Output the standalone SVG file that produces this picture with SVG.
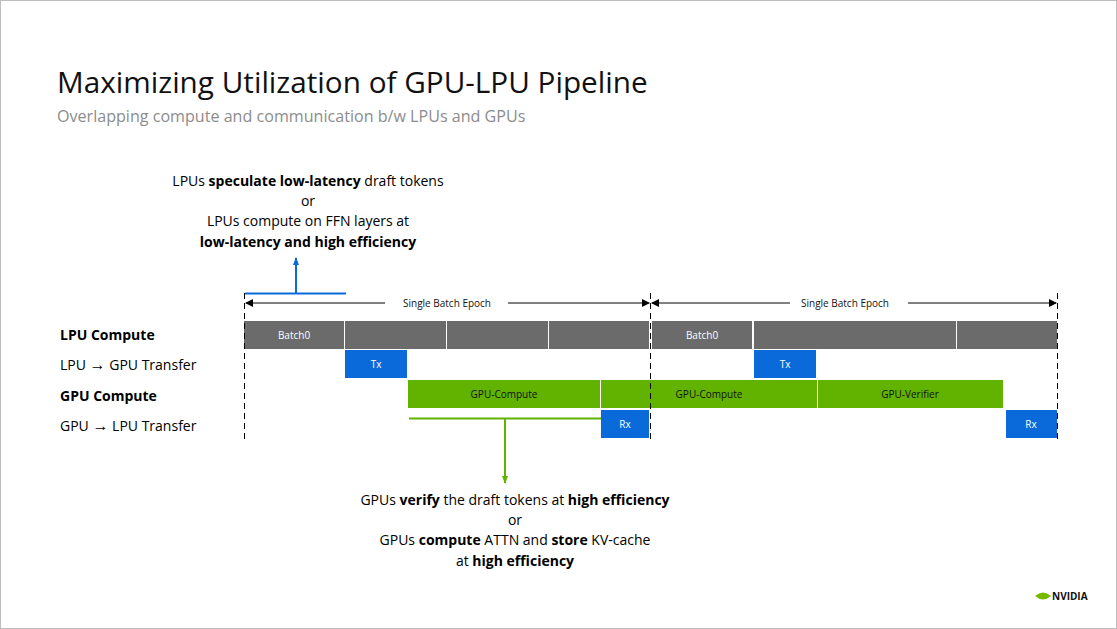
<svg xmlns="http://www.w3.org/2000/svg" width="1117" height="629" viewBox="0 0 1117 629">
<defs>
<style>
text{font-family:"Open Sans","Noto Sans",sans-serif}
.g{fill:#6b6b6b}.b{fill:#0a6ad9}.gr{fill:#62b200}
.wl{font-size:10px;fill:#fff;text-anchor:middle}
.dl{font-size:10px;fill:#111;text-anchor:middle}
.lab{font-size:14px;fill:#000}
.note{font-size:14px;fill:#000;text-anchor:middle}
.dash{stroke:#000;stroke-width:1;stroke-dasharray:6,4}
</style>
<marker id="ah" markerWidth="8" markerHeight="8" refX="7" refY="4" orient="auto" markerUnits="userSpaceOnUse"><path d="M0,0L8,4L0,8z" fill="#000"/></marker>
<marker id="ab" markerWidth="8" markerHeight="8" refX="7" refY="4" orient="auto" markerUnits="userSpaceOnUse"><path d="M0,1L8,4L0,7z" fill="#0a6ad9"/></marker>
<marker id="ag" markerWidth="8" markerHeight="8" refX="7" refY="4" orient="auto" markerUnits="userSpaceOnUse"><path d="M0,1L8,4L0,7z" fill="#62b200"/></marker>
</defs>
<rect x="0.5" y="0.5" width="1116" height="628" fill="#fff" stroke="#bdbdbd"/>
<text x="57" y="93" font-size="29.7" fill="#111">Maximizing Utilization of GPU-LPU Pipeline</text>
<text x="57" y="122" font-size="16.1" fill="#8c8c8c">Overlapping compute and communication b/w LPUs and GPUs</text>

<g id="labels">
<text class="lab" x="60" y="340" font-weight="bold">LPU Compute</text>
<text class="lab" x="60" y="370">LPU <tspan font-weight="bold" font-size="16">→</tspan> GPU Transfer</text>
<text class="lab" x="60" y="401" font-weight="bold">GPU Compute</text>
<text class="lab" x="60" y="431">GPU <tspan font-weight="bold" font-size="16">→</tspan> LPU Transfer</text>
</g>

<g id="note-top">
<text class="note" x="308" y="186">LPUs <tspan font-weight="bold">speculate low-latency</tspan> draft tokens</text>
<text class="note" x="308" y="206">or</text>
<text class="note" x="308" y="226">LPUs compute on FFN layers at</text>
<text class="note" x="308" y="247" font-weight="bold">low-latency and high efficiency</text>
</g>
<g id="note-bottom">
<text class="note" x="515" y="505">GPUs <tspan font-weight="bold">verify</tspan> the draft tokens at <tspan font-weight="bold">high efficiency</tspan></text>
<text class="note" x="515" y="525">or</text>
<text class="note" x="515" y="545">GPUs <tspan font-weight="bold">compute</tspan> ATTN and <tspan font-weight="bold">store</tspan> KV-cache</text>
<text class="note" x="515" y="566">at <tspan font-weight="bold">high efficiency</tspan></text>
</g>

<g id="lpu">
<rect class="g" x="244" y="321" width="100" height="28"/>
<rect class="g" x="345" y="321" width="101" height="28"/>
<rect class="g" x="447" y="321" width="101" height="28"/>
<rect class="g" x="549" y="321" width="100" height="28"/>
<rect class="g" x="652" y="321" width="100" height="28"/>
<rect class="g" x="754" y="321" width="202" height="28"/>
<rect class="g" x="957" y="321" width="100" height="28"/>
<text class="wl" x="294" y="339">Batch0</text>
<text class="wl" x="702" y="339">Batch0</text>
</g>
<g id="tx">
<rect class="b" x="345" y="350" width="62" height="28"/><text class="wl" x="376" y="368">Tx</text>
<rect class="b" x="754" y="350" width="62" height="28"/><text class="wl" x="785" y="368">Tx</text>
</g>
<g id="gpu">
<rect class="gr" x="408" y="380" width="192" height="28"/><text class="dl" x="504" y="398">GPU-Compute</text>
<rect class="gr" x="601" y="380" width="216" height="28"/><text class="dl" x="709" y="398">GPU-Compute</text>
<rect class="gr" x="818" y="380" width="185" height="28"/><text class="dl" x="910" y="398">GPU-Verifier</text>
</g>
<g id="rx">
<rect class="b" x="601" y="410" width="48" height="28"/><text class="wl" x="625" y="428">Rx</text>
<rect class="b" x="1006" y="410" width="51" height="28"/><text class="wl" x="1031" y="428">Rx</text>
</g>

<g id="connectors">
<line class="dash" x1="244.5" y1="293" x2="244.5" y2="442"/>
<line class="dash" x1="650.5" y1="293" x2="650.5" y2="442"/>
<line class="dash" x1="1057.5" y1="293" x2="1057.5" y2="442"/>
<line x1="385" y1="303" x2="246" y2="303" stroke="#000" marker-end="url(#ah)"/>
<line x1="508" y1="303" x2="649" y2="303" stroke="#000" marker-end="url(#ah)"/>
<text x="447" y="307" font-size="10" text-anchor="middle" fill="#111">Single Batch Epoch</text>
<line x1="790" y1="303" x2="652" y2="303" stroke="#000" marker-end="url(#ah)"/>
<line x1="908" y1="303" x2="1056" y2="303" stroke="#000" marker-end="url(#ah)"/>
<text x="845" y="307" font-size="10" text-anchor="middle" fill="#111">Single Batch Epoch</text>
<line x1="245" y1="293.5" x2="346" y2="293.5" stroke="#0a6ad9" stroke-width="2"/>
<line x1="296" y1="293" x2="296" y2="258" stroke="#0a6ad9" stroke-width="2" marker-end="url(#ab)"/>
<line x1="409" y1="418.5" x2="601" y2="418.5" stroke="#62b200" stroke-width="2"/>
<line x1="505" y1="418" x2="505" y2="483" stroke="#62b200" stroke-width="2" marker-end="url(#ag)"/>
</g>

<g id="logo">
<path d="M1035,596 q8,-7 16,0 q-8,7 -16,0z" fill="#76b900"/>
<text x="1052" y="600" font-size="10" font-weight="bold" fill="#111" font-family="Liberation Sans,sans-serif">NVIDIA</text>
</g>
</svg>
